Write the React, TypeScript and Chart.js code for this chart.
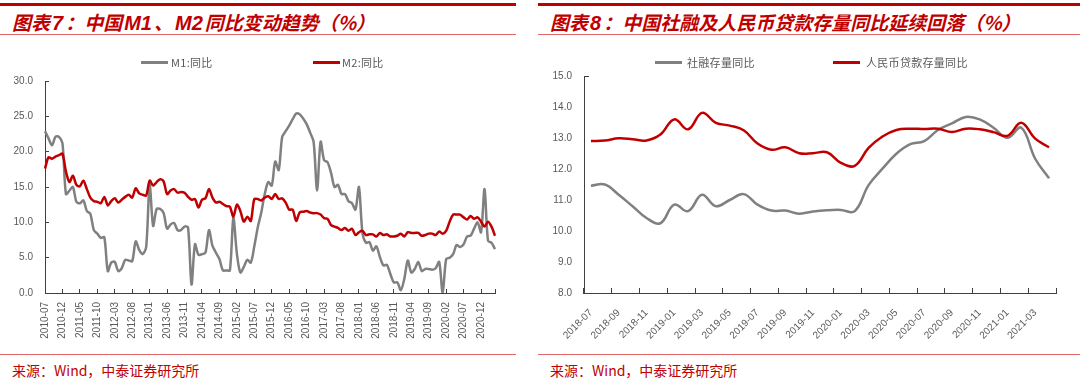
import React, { useEffect, useRef } from 'react';
import { Chart, registerables } from 'chart.js';

Chart.register(...registerables);

function monthLabels(startYear: number, startMonth: number, count: number): string[] {
  const out: string[] = [];
  for (let i = 0; i < count; i++) {
    const t = startYear * 12 + (startMonth - 1) + i;
    const y = Math.floor(t / 12);
    const m = (t % 12) + 1;
    out.push(`${y}-${m < 10 ? '0' + m : m}`);
  }
  return out;
}

// ---- Chart 7: M1 / M2 YoY, 2010-07 .. 2021-04 ----
const moneyMonths = monthLabels(2010, 7, 130);
const m1Yoy = [
  22.9, 21.9, 20.9, 22.1, 22.1, 21.2,
  14.0, 14.5, 15.0, 12.9, 12.7, 13.1, 11.6, 11.2, 8.9, 8.4, 7.8, 7.9,
  3.1, 4.3, 4.4, 3.1, 3.5, 4.7, 4.6, 4.5, 7.3, 6.1, 5.5, 6.5,
  15.3, 9.5, 11.9, 11.9, 11.3, 9.1, 9.7, 9.9, 8.9, 8.9, 9.4, 9.3,
  1.2, 6.9, 5.4, 5.5, 5.7, 8.9, 6.7, 5.7, 4.8, 3.2, 3.2, 3.2,
  10.6, 5.6, 2.9, 3.7, 4.7, 4.3, 6.6, 9.3, 11.4, 14.0, 15.7, 15.2,
  18.6, 17.4, 22.1, 22.9, 23.7, 24.6, 25.4, 25.3, 24.7, 23.9, 22.7, 21.4,
  14.5, 21.4, 18.8, 18.5, 17.0, 15.0, 15.3, 14.0, 14.0, 13.0, 12.7, 11.8,
  15.0, 8.5, 7.1, 7.2, 6.0, 6.6, 5.1, 3.9, 4.0, 2.7, 1.5, 1.5,
  0.4, 2.0, 4.6, 2.9, 3.4, 4.4, 3.1, 3.4, 3.4, 3.3, 3.5, 4.4,
  0.0, 4.8, 5.0, 5.5, 6.8, 6.5, 6.9, 8.0, 8.1, 9.1, 10.0, 8.6,
  14.7, 7.4, 7.1, 6.2,
];
const m2Yoy = [
  17.6, 19.2, 19.0, 19.3, 19.5, 19.7,
  17.2, 15.7, 16.6, 15.3, 15.1, 15.9, 14.7, 13.5, 13.0, 12.9, 12.7, 13.6,
  12.4, 13.0, 13.4, 12.8, 13.2, 13.6, 13.9, 13.5, 14.8, 14.1, 13.9, 13.8,
  15.9, 15.2, 15.7, 16.1, 15.8, 14.0, 14.5, 14.7, 14.2, 14.3, 14.2, 13.6,
  13.2, 13.3, 12.1, 13.2, 13.4, 14.7, 13.5, 12.8, 12.9, 12.6, 12.3, 12.2,
  10.8, 12.5, 11.6, 10.1, 10.8, 10.2, 13.3, 13.3, 13.1, 13.5, 13.7, 13.3,
  14.0, 13.3, 13.4, 12.8, 11.8, 11.8, 10.2, 11.4, 11.5, 11.6, 11.4, 11.3,
  11.3, 11.1, 10.6, 10.5, 9.6, 9.4, 9.2, 8.9, 9.2, 8.8, 9.1, 8.2,
  8.6, 8.8, 8.2, 8.3, 8.3, 8.0, 8.5, 8.2, 8.3, 8.0, 8.0, 8.1,
  8.4, 8.0, 8.6, 8.5, 8.5, 8.5, 8.1, 8.2, 8.4, 8.4, 8.2, 8.7,
  8.4, 8.8, 10.1, 11.1, 11.1, 11.1, 10.7, 10.4, 10.9, 10.5, 10.7, 10.1,
  9.4, 10.1, 9.4, 8.1,
];
const moneyYRange = [0, 30];
const moneyYStep = 5;
const moneyLabelEvery = 5;

// ---- Chart 8: TSF stock / RMB loan stock YoY, 2018-07 .. 2021-04 ----
const creditMonths = monthLabels(2018, 7, 34);
const tsfYoy = [
  11.46, 11.50, 11.17, 10.80, 10.42, 10.25, 10.85, 10.64, 11.17, 10.80, 11.00, 11.19,
  10.85, 10.66, 10.66, 10.56, 10.63, 10.67, 10.68, 10.64, 11.48, 12.01, 12.49, 12.80,
  12.90, 13.26, 13.47, 13.68, 13.60, 13.33, 13.01, 13.33, 12.33, 11.70,
];
const loanYoy = [
  12.90, 12.92, 12.99, 12.96, 12.92, 13.11, 13.60, 13.28, 13.81, 13.49, 13.40, 13.25,
  12.82, 12.62, 12.70, 12.51, 12.51, 12.54, 12.20, 12.10, 12.68, 13.05, 13.26, 13.30,
  13.29, 13.30, 13.19, 13.30, 13.28, 13.19, 13.07, 13.49, 12.98, 12.70,
];
const creditYRange = [8, 15];
const creditYStep = 1;
const creditLabelEvery = 2;

const RED = '#C00000';
const GRAY = '#808080';
const AXIS = '#404040';
const TICK_TEXT = '#595959';
const THIN_RED = '#E06666';
const NONE = 'rgba(0,0,0,0)';
const TICK_FONT = { family: '"Liberation Sans", Arial, sans-serif', size: 10 };
const CJK = '"Noto Sans CJK SC", "Noto Sans", sans-serif';
const LATIN_BOLD = '"Liberation Sans", Arial, sans-serif';

function MoneyChart() {
  const ref = useRef<HTMLCanvasElement | null>(null);
  useEffect(() => {
    if (!ref.current) return;
    const chart = new Chart(ref.current, {
      type: 'line',
      data: {
        labels: moneyMonths,
        datasets: [
          { label: 'M1:同比', data: m1Yoy, borderColor: GRAY, backgroundColor: GRAY, borderWidth: 2.5, pointRadius: 0, tension: 0.3, fill: false, order: 1 },
          { label: 'M2:同比', data: m2Yoy, borderColor: RED, backgroundColor: RED, borderWidth: 2.5, pointRadius: 0, tension: 0.3, fill: false, order: 0 },
        ],
      },
      options: {
        animation: false,
        responsive: false,
        layout: { padding: { left: 0, right: 17, top: 41, bottom: 7 } },
        plugins: { legend: { display: false }, tooltip: { enabled: false }, title: { display: false } },
        scales: {
          x: {
            type: 'category',
            offset: false,
            grid: {
              display: true,
              drawOnChartArea: false,
              drawTicks: true,
              tickLength: -4,
              tickWidth: 1,
              tickColor: (ctx: any) =>
                ctx.index === undefined || ctx.index % moneyLabelEvery === 0 || ctx.index === moneyMonths.length - 1 ? AXIS : NONE,
            },
            border: { display: true, color: AXIS, width: 1 },
            ticks: {
              autoSkip: false,
              minRotation: 90,
              maxRotation: 90,
              padding: 13,
              color: TICK_TEXT,
              font: TICK_FONT,
              callback: (_v: any, i: number) => (i % moneyLabelEvery === 0 ? moneyMonths[i] : ''),
            },
            afterFit: (s: any) => { s.height = 50; },
          },
          y: {
            min: moneyYRange[0],
            max: moneyYRange[1],
            grid: { display: true, drawOnChartArea: false, drawTicks: true, tickLength: -4, tickWidth: 1, tickColor: AXIS },
            border: { display: true, color: AXIS, width: 1 },
            ticks: {
              stepSize: moneyYStep,
              padding: 16,
              color: TICK_TEXT,
              font: TICK_FONT,
              callback: (v: any) => Number(v).toFixed(1),
            },
            afterFit: (s: any) => { s.width = 45; },
          },
        },
      },
    } as any);
    return () => chart.destroy();
  }, []);
  return <canvas ref={ref} width={520} height={310} style={{ position: 'absolute', left: 0, top: 40 }} />;
}

function CreditChart() {
  const ref = useRef<HTMLCanvasElement | null>(null);
  useEffect(() => {
    if (!ref.current) return;
    const chart = new Chart(ref.current, {
      type: 'line',
      data: {
        labels: creditMonths,
        datasets: [
          { label: '社融存量同比', data: tsfYoy, borderColor: GRAY, backgroundColor: GRAY, borderWidth: 2.5, pointRadius: 0, tension: 0.4, fill: false, order: 1 },
          { label: '人民币贷款存量同比', data: loanYoy, borderColor: RED, backgroundColor: RED, borderWidth: 2.5, pointRadius: 0, tension: 0.4, fill: false, order: 0 },
        ],
      },
      options: {
        animation: false,
        responsive: false,
        layout: { padding: { left: 0, right: 24, top: 36, bottom: 3 } },
        plugins: { legend: { display: false }, tooltip: { enabled: false }, title: { display: false } },
        scales: {
          x: {
            type: 'category',
            offset: true,
            grid: {
              display: true,
              offset: true,
              drawOnChartArea: false,
              drawTicks: true,
              tickLength: -5,
              tickWidth: 1,
              tickColor: (ctx: any) => (ctx.index === undefined || ctx.index % creditLabelEvery === 0 ? AXIS : NONE),
            },
            border: { display: true, color: AXIS, width: 1 },
            ticks: {
              autoSkip: false,
              minRotation: 45,
              maxRotation: 45,
              padding: 19,
              color: TICK_TEXT,
              font: TICK_FONT,
              callback: (_v: any, i: number) => (i % creditLabelEvery === 0 ? creditMonths[i] : ''),
            },
            afterFit: (s: any) => { s.height = 54; },
          },
          y: {
            min: creditYRange[0],
            max: creditYRange[1],
            grid: {
              display: true,
              drawOnChartArea: false,
              drawTicks: true,
              tickLength: -5,
              tickWidth: 1,
              tickColor: (ctx: any) => (ctx.tick && ctx.tick.value === creditYRange[1] ? AXIS : NONE),
            },
            border: { display: true, color: AXIS, width: 1 },
            ticks: {
              stepSize: creditYStep,
              padding: 17,
              color: TICK_TEXT,
              font: TICK_FONT,
              callback: (v: any) => Number(v).toFixed(1),
            },
            afterFit: (s: any) => { s.width = 44; },
          },
        },
      },
    } as any);
    return () => chart.destroy();
  }, []);
  return <canvas ref={ref} width={540} height={310} style={{ position: 'absolute', left: 540, top: 40 }} />;
}

function LegendItem(props: { x: number; textX: number; color: string; text: string }) {
  return (
    <>
      <div style={{ position: 'absolute', left: props.x, top: 61, width: 27, height: 2.5, background: props.color }} />
      <div
        style={{
          position: 'absolute',
          left: props.textX,
          top: 54,
          fontFamily: CJK,
          fontSize: 11,
          lineHeight: '16px',
          color: TICK_TEXT,
          whiteSpace: 'nowrap',
          letterSpacing: 0.3,
        }}
      >
        {props.text}
      </div>
    </>
  );
}

function L(props: { children: React.ReactNode }) {
  return <span style={{ fontFamily: LATIN_BOLD, fontSize: 20, margin: '0 2px' }}>{props.children}</span>;
}

function Frame(props: { left: number; width: number; title: React.ReactNode }) {
  const { left, width, title } = props;
  return (
    <>
      <div style={{ position: 'absolute', left, top: 3, width, height: 2.5, background: RED }} />
      <div
        style={{
          position: 'absolute',
          left: left + 12,
          top: 10,
          fontFamily: CJK,
          fontSize: 19,
          fontWeight: 700,
          fontStyle: 'italic',
          lineHeight: '24px',
          color: RED,
          whiteSpace: 'nowrap',
        }}
      >
        {title}
      </div>
      <div style={{ position: 'absolute', left, top: 34, width, height: 1, background: THIN_RED }} />
      <div style={{ position: 'absolute', left, top: 354, width, height: 1, background: THIN_RED }} />
      <div
        style={{
          position: 'absolute',
          left: left + 12,
          top: 360,
          fontFamily: CJK,
          fontSize: 14,
          lineHeight: '20px',
          color: RED,
          whiteSpace: 'nowrap',
        }}
      >
        来源：Wind，中泰证券研究所
      </div>
    </>
  );
}

export default function App() {
  return (
    <div style={{ position: 'fixed', left: 0, top: 0, width: 1080, height: 380, background: '#fff', overflow: 'hidden' }}>
      <Frame
        left={0}
        width={516}
        title={<>图表<L>7</L>：中国<L>M1</L>、<L>M2</L>同比变动趋势（%）</>}
      />
      <Frame
        left={538}
        width={542}
        title={<>图表<L>8</L>：中国社融及人民币贷款存量同比延续回落（%）</>}
      />
      <MoneyChart />
      <CreditChart />
      <LegendItem x={141} textX={171} color={GRAY} text="M1:同比" />
      <LegendItem x={313} textX={342} color={RED} text="M2:同比" />
      <LegendItem x={655} textX={687} color={GRAY} text="社融存量同比" />
      <LegendItem x={833} textX={866} color={RED} text="人民币贷款存量同比" />
    </div>
  );
}
